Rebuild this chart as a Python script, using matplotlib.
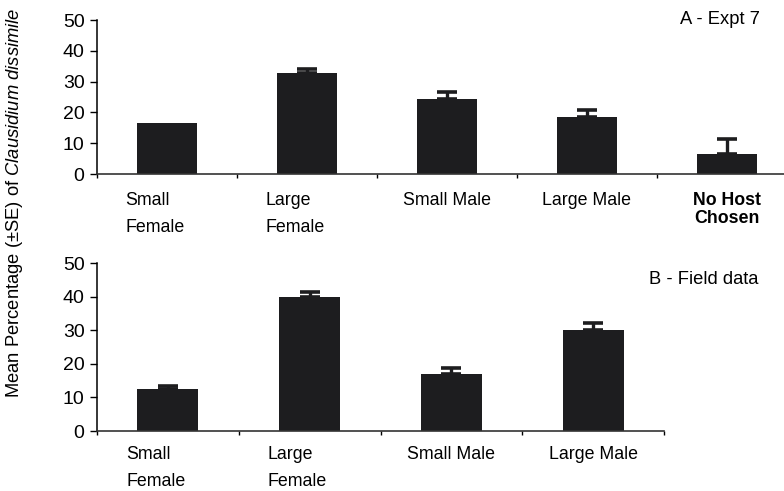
import numpy as np
import matplotlib
matplotlib.use("Agg")
import matplotlib.pyplot as plt
import matplotlib.transforms as mtransforms

plt.rcParams['font.family'] = ['Liberation Sans', 'DejaVu Sans']
plt.rcParams['mathtext.fontset'] = 'custom'
plt.rcParams['mathtext.rm'] = 'Liberation Sans'
plt.rcParams['mathtext.it'] = 'Liberation Sans:italic'

# Expt 7 host choice
expt_labels = ["Small\nFemale", "Large\nFemale", "Small Male", "Large Male", "No Host\nChosen"]
expt_mean = [16.5, 32.8, 24.2, 18.4, 6.6]
expt_se = [0.0, 1.2, 2.3, 2.3, 4.9]

# field survey
field_labels = ["Small\nFemale", "Large\nFemale", "Small Male", "Large Male"]
field_mean = [12.5, 39.9, 16.9, 30.1]
field_se = [0.9, 1.5, 2.0, 2.2]

y_ticks = [0, 10, 20, 30, 40, 50]

BAR = "#1d1d1f"
W, H = 784, 491


def panel(rect, labels, mean, se, tag, tag_xy, offset_pt):
    ax = fig.add_axes(rect)
    x = np.arange(len(labels))
    mean = np.asarray(mean)
    se = np.asarray(se)
    ax.bar(x, mean, width=0.43, color=BAR, zorder=2)
    has_err = se > 0
    ax.errorbar(x[has_err], mean[has_err],
                yerr=[np.zeros(has_err.sum()), se[has_err]], fmt="none",
                ecolor=BAR, elinewidth=2.4, capsize=7, capthick=2.6, zorder=3)
    ax.set_xlim(-0.5, len(labels) - 0.5)
    ax.set_ylim(0, 50)
    ax.set_yticks(y_ticks)
    ax.tick_params(axis="y", length=5, width=1, labelsize=14, pad=4)
    ax.set_xticks(np.arange(len(labels) + 1) - 0.5)
    ax.set_xticklabels([])
    ax.tick_params(axis="x", length=3, width=1)
    for s in ("top", "right"):
        ax.spines[s].set_visible(False)
    ax.spines["left"].set_linewidth(1.1)
    ax.spines["bottom"].set_linewidth(1.2)
    ax.spines["bottom"].set_color("#333333")

    # category names below the axis
    for i, lab in enumerate(labels):
        bold = lab.startswith("No Host")
        if "\n" in lab and not bold:
            tr = ax.get_xaxis_transform() + mtransforms.ScaledTranslation(
                -30 / 72, -offset_pt / 72, fig.dpi_scale_trans)
            ax.text(i, 0, lab, transform=tr, ha="left", va="top",
                    fontsize=12.8, linespacing=1.75)
        else:
            tr = ax.get_xaxis_transform() + mtransforms.ScaledTranslation(
                0, -offset_pt / 72, fig.dpi_scale_trans)
            ax.text(i, 0, lab, transform=tr, ha="center", va="top",
                    fontsize=12.8, linespacing=1.1,
                    fontweight="bold" if bold else "normal")
    fig.text(tag_xy[0] / W, 1 - tag_xy[1] / H, tag, ha="right", va="center",
             fontsize=13.2)
    return ax


fig = plt.figure(figsize=(7.84, 4.91), dpi=100)

panel([97 / W, 1 - 174 / H, 700 / W, 154 / H], expt_labels, expt_mean, expt_se,
      "A - Expt 7", (760, 20), 13)
panel([97 / W, 1 - 431 / H, 567 / W, 167.7 / H], field_labels, field_mean, field_se,
      "B - Field data", (758, 279), 11)

fig.text(15 / W, 1 - 203 / H,
         r"Mean Percentage (±SE) of $\it{Clausidium\ dissimile}$",
         rotation=90, ha="center", va="center", fontsize=13.2)

fig.savefig("out.png", dpi=100)
